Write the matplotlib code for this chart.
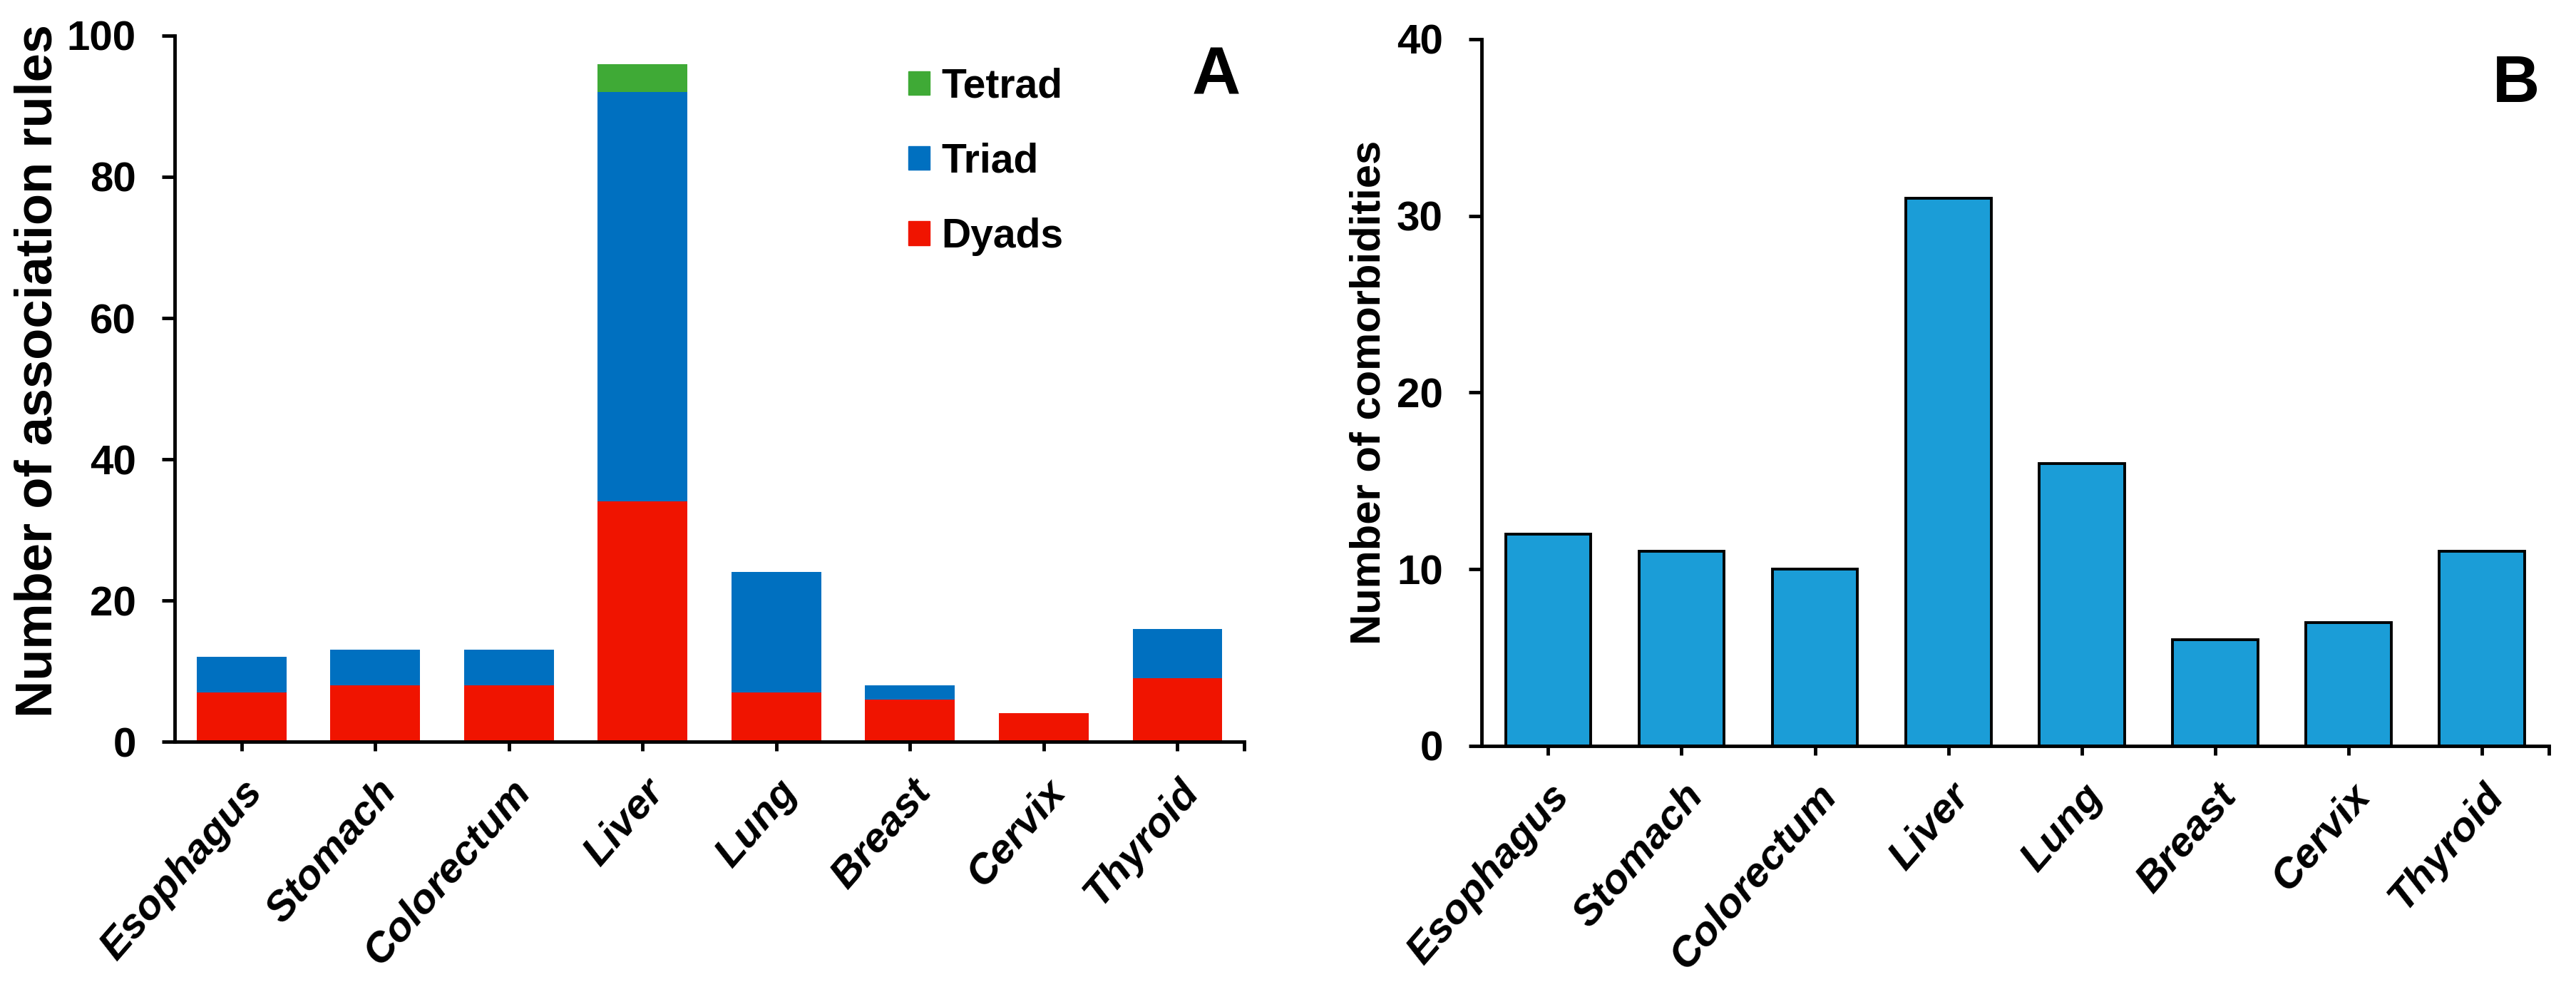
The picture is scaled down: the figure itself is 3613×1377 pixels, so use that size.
import numpy as np
import matplotlib
matplotlib.use("Agg")
import matplotlib.pyplot as plt
from matplotlib.patches import Patch

plt.rcParams['font.family'] = ['Liberation Sans', 'DejaVu Sans']
plt.rcParams['font.weight'] = 'bold'

# cancer sites shown on both panels
sites = ['Esophagus', 'Stomach', 'Colorectum', 'Liver', 'Lung',
         'Breast', 'Cervix', 'Thyroid']

# panel A: association rules by size
dyads = [7, 8, 8, 34, 7, 6, 4, 9]
triads = [5, 5, 5, 58, 17, 2, 0, 7]
tetrads = [0, 0, 0, 4, 0, 0, 0, 0]

# panel B: comorbidities per site
comorbidities = [12, 11, 10, 31, 16, 6, 7, 11]

a_ticks = [0, 20, 40, 60, 80, 100]
b_ticks = [0, 10, 20, 30, 40]

RED = '#F01400'
BLUE = '#0070C0'
GREEN = '#3FAA36'
CYAN = '#1B9DD7'


def style_axes(ax, ymax, ticks):
    ax.set_xlim(-0.5, 7.5)
    ax.set_ylim(0, ymax)
    ax.set_yticks(ticks)
    ax.set_xticks(np.arange(len(sites)))
    ax.set_xticks([7.5], minor=True)
    ax.spines['top'].set_visible(False)
    ax.spines['right'].set_visible(False)
    for s in ('left', 'bottom'):
        ax.spines[s].set_linewidth(3.5)
    ax.tick_params(axis='y', direction='out', length=13, width=3.5,
                   labelsize=42, pad=26)
    ax.tick_params(axis='x', which='both', direction='out', length=9,
                   width=3.5, labelsize=42, pad=22)
    ax.set_xticklabels(sites, rotation=49, ha='right', va='top',
                       rotation_mode='anchor', style='italic',
                       fontweight='bold')
    for lab in ax.get_yticklabels():
        lab.set_fontweight('bold')


def main():
    fig = plt.figure(figsize=(36.13, 13.77), dpi=100)
    x = np.arange(len(sites))

    # ---- panel A ----
    ax1 = fig.add_axes([0.0678, 0.2447, 0.4152, 0.719])
    d = np.array(dyads)
    t = np.array(triads)
    q = np.array(tetrads)
    ax1.bar(x, d, width=0.67, color=RED, zorder=2)
    ax1.bar(x, t, width=0.67, bottom=d, color=BLUE, zorder=2)
    ax1.bar(x, q, width=0.67, bottom=d + t, color=GREEN, zorder=2)
    style_axes(ax1, 100, a_ticks)
    ax1.set_ylabel('Number of association rules', fontsize=52,
                   fontweight='bold')
    ax1.yaxis.set_label_coords(-0.105, 0.525)
    handles = [Patch(color=GREEN, label='Tetrad'),
               Patch(color=BLUE, label='Triad'),
               Patch(color=RED, label='Dyads')]
    ax1.legend(handles=handles, loc='upper left',
               bbox_to_anchor=(0.686, 0.955), frameon=False,
               fontsize=41, handlelength=0.53, handleheight=0.53,
               handletextpad=0.28, labelspacing=0.9, borderpad=0,
               borderaxespad=0)

    # ---- panel B ----
    ax2 = fig.add_axes([0.5751, 0.2404, 0.4143, 0.7197])
    ax2.bar(x, comorbidities, width=0.64, color=CYAN, edgecolor='black',
            linewidth=2.8, zorder=2)
    style_axes(ax2, 40, b_ticks)
    ax2.set_ylabel('Number of comorbidities', fontsize=43,
                   fontweight='bold', labelpad=8)

    fig.text(0.4628, 1 - 133 / 1377, 'A', fontsize=68, fontweight='bold',
             va='baseline', ha='left')
    fig.text(0.9677, 1 - 143 / 1377, 'B', fontsize=66, fontweight='bold',
             va='baseline', ha='left')

    fig.savefig('out.png', dpi=100, facecolor='white')


if __name__ == "__main__":
    main()
